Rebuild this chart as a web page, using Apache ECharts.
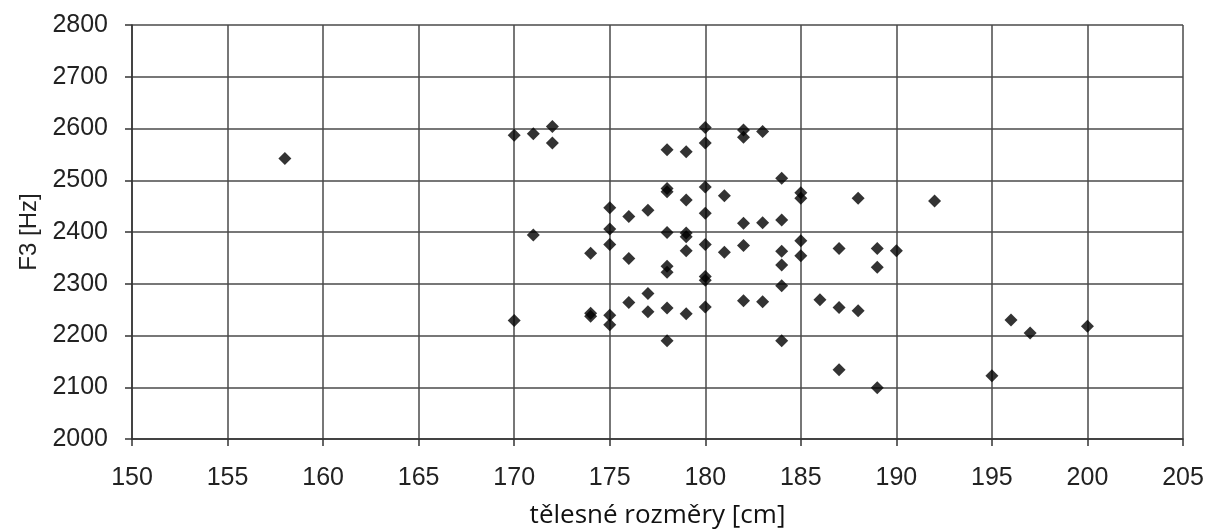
<!DOCTYPE html>
<html>
<head>
<meta charset="utf-8">
<script src="https://cdn.jsdelivr.net/npm/echarts@6/dist/echarts.min.js"></script>
<style>
  html, body { margin: 0; padding: 0; background: #fff; }
  #chart { width: 1205px; height: 529px; }
</style>
</head>
<body>
<div id="chart"></div>
<script>
// tělesné rozměry [cm] vs F3 [Hz]
const heightCm = [
  158, 170, 171, 172, 172, 178, 179, 180, 180, 182, 182, 183,
  184, 178, 178, 179, 180, 181, 185, 185, 188, 192,
  175, 176, 177, 180, 182, 183, 184,
  171, 175, 175, 178, 179, 179, 179, 180, 181, 182, 185, 187, 189, 190,
  174, 176, 178, 178, 180, 180, 184, 184, 185, 189, 184,
  177, 176, 177, 178, 179, 180, 182, 183, 186, 187, 188,
  170, 174, 174, 175, 175, 196, 197, 200,
  178, 184, 187, 189, 195
];
const f3Hz = [
  2542, 2587, 2590, 2604, 2572, 2559, 2555, 2602, 2572, 2597, 2583, 2594,
  2504, 2484, 2478, 2462, 2487, 2470, 2476, 2465, 2465, 2460,
  2447, 2430, 2442, 2436, 2417, 2418, 2423,
  2394, 2406, 2376, 2399, 2398, 2391, 2364, 2376, 2361, 2374, 2383, 2368, 2368, 2364,
  2359, 2349, 2334, 2322, 2314, 2307, 2363, 2336, 2354, 2332, 2296,
  2281, 2264, 2246, 2253, 2242, 2255, 2267, 2265, 2269, 2254, 2248,
  2229, 2243, 2237, 2239, 2221, 2230, 2205, 2218,
  2190, 2190, 2134, 2099, 2122
];

const xName = 'tělesné rozměry [cm]';
const yName = 'F3 [Hz]';

const points = heightCm.map((h, i) => [h, f3Hz[i]]);

const chart = echarts.init(document.getElementById('chart'));

const labelFont = "'Liberation Sans', Arial, sans-serif";
const gridLine = { show: true, lineStyle: { color: '#4a4a4a', width: 1.5 } };

const option = {
  backgroundColor: '#fff',
  animation: false,
  grid: {
    left: 132,
    right: 22,
    top: 25,
    bottom: 90,
    containLabel: false,
    outerBoundsMode: 'none'
  },
  xAxis: {
    type: 'value',
    min: 150,
    max: 205,
    interval: 5,
    name: xName,
    nameLocation: 'middle',
    nameGap: 64,
    nameTextStyle: { fontFamily: "'Open Sans', sans-serif", fontSize: 26, color: '#111' },
    axisLine: { show: true, onZero: false, lineStyle: { color: '#333', width: 1.5 } },
    axisTick: { show: true, length: 7, lineStyle: { color: '#333', width: 1.5 } },
    axisLabel: { margin: 27, fontFamily: labelFont, fontSize: 25, color: '#222', formatter: v => String(v) },
    splitLine: gridLine
  },
  yAxis: {
    type: 'value',
    min: 2000,
    max: 2800,
    interval: 100,
    name: yName,
    nameLocation: 'middle',
    nameGap: 90,
    nameTextStyle: { fontFamily: labelFont, fontSize: 24, color: '#222' },
    axisLine: { show: true, onZero: false, lineStyle: { color: '#333', width: 1.5 } },
    axisTick: { show: true, length: 7, lineStyle: { color: '#333', width: 1.5 } },
    axisLabel: { margin: 24, fontFamily: labelFont, fontSize: 25, color: '#222', formatter: v => String(v) },
    splitLine: gridLine
  },
  series: [
    {
      type: 'scatter',
      data: points,
      symbol: 'diamond',
      symbolSize: [13, 13],
      itemStyle: { color: '#000' }
    }
  ]
};

chart.setOption(option);
</script>
</body>
</html>
